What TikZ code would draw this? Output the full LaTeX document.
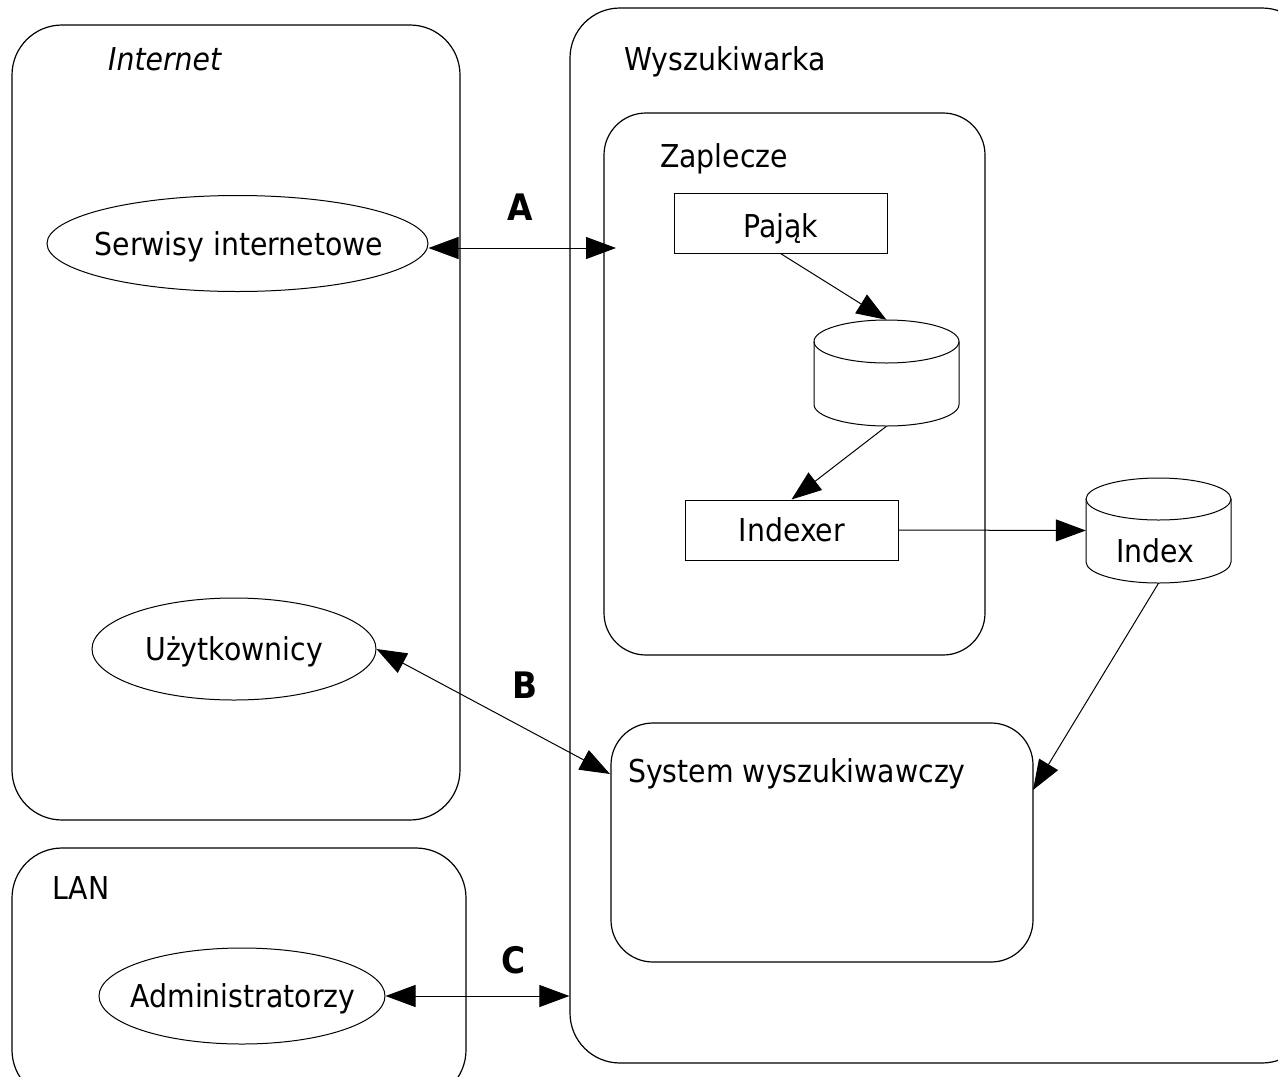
\documentclass[tikz,border=0pt]{standalone}
\usepackage{fontspec}
\setmainfont{DejaVu Sans Condensed}
\usetikzlibrary{arrows.meta,shapes.geometric,calc}

% draws a database cylinder over the named node #1 (centre #2,#3; width #4; height #5; cap radius #6)
\newcommand{\dbcylinder}[6]{%
  \node[minimum width=#4pt, minimum height=#5pt, inner sep=0pt] (#1) at (#2,#3) {};
  \draw[fill=white, line width=1pt]
    ($(#2,#3)+(-#4/2,-#5/2+#6)$) -- ($(#2,#3)+(-#4/2,#5/2-#6)$)
    arc[start angle=180, end angle=360, x radius=#4/2*1pt, y radius=#6*1pt]
    -- ($(#2,#3)+(#4/2,-#5/2+#6)$)
    arc[start angle=0, end angle=180, x radius=#4/2*1pt, y radius=#6*1pt] -- cycle;
  \draw[line width=1pt] ($(#2,#3)+(-#4/2,-#5/2+#6)$)
    arc[start angle=180, end angle=360, x radius=#4/2*1pt, y radius=#6*1pt];
}

\begin{document}
\begin{tikzpicture}[x=1pt, y=-1pt,
  font=\fontsize{31.5}{38}\selectfont,
  region/.style={draw, line width=1.2pt, rounded corners=50pt, inner sep=0pt},
  subregion/.style={draw, line width=1.2pt, fill=white, rounded corners=42pt, inner sep=0pt},
  procbox/.style={draw, line width=1pt, fill=white, inner sep=0pt},
  actor/.style={draw, line width=1pt, ellipse, inner sep=0pt},
  flow/.style={line width=1pt, -{Triangle[length=30pt, width=22pt]}},
  twoway/.style={line width=1pt, {Triangle[length=30pt, width=22pt]}-{Triangle[length=30pt, width=22pt]}},
  tag/.style={font=\fontsize{36.5}{40}\selectfont\bfseries, anchor=base},
  title/.style={anchor=base west, inner sep=0pt},
  lbl/.style={anchor=base, inner sep=0pt}]

\useasboundingbox (0,0) rectangle (1278,1077);
\clip (0,0) rectangle (1278,1077);
\fill[white] (0,0) rectangle (1278,1077);

% outer areas
\node[region, minimum width=448pt, minimum height=795pt] (internet) at (236,422.5) {};
\node[region, minimum width=742pt, minimum height=1055pt] (wysz) at (941,535.5) {};
\node[region, minimum width=454pt, minimum height=252pt] (lan) at (239,974) {};

\node[title] (tInternet) at (108,70) {\itshape Internet};
\node[title] (tWysz) at (624,70) {Wyszukiwarka};
\node[title] (tLan) at (52,899) {LAN};

% inner areas of the search engine
\node[subregion, minimum width=381pt, minimum height=542pt] (zaplecze) at (794.5,384) {};
\node[title] (tZaplecze) at (660,167) {Zaplecze};
\node[subregion, minimum width=422pt, minimum height=239pt] (system) at (822,842.5) {};
\node[title] (tSystem) at (628,782) {System wyszukiwawczy};

% back-end components
\node[procbox, minimum width=213pt, minimum height=60pt] (pajak) at (780.5,223) {};
\node[lbl] (tPajak) at (781,237) {Pająk};
\dbcylinder{store}{886.5}{373}{145}{106}{21.5}
\node[procbox, minimum width=213pt, minimum height=60pt] (indexer) at (791.5,530) {};
\node[lbl] (tIndexer) at (792,541) {Indexer};
\dbcylinder{index}{1158.5}{530.5}{145}{105}{21}
\node[lbl] (tIndex) at (1155,562) {Index};

% actors
\node[actor, minimum width=381pt, minimum height=96pt] (serwisy) at (237.5,243.5) {};
\node[lbl] (tSerwisy) at (239,255) {Serwisy internetowe};
\node[actor, minimum width=284pt, minimum height=102pt] (uzyt) at (234,649) {};
\node[lbl] (tUzyt) at (234,660) {Użytkownicy};
\node[actor, minimum width=286pt, minimum height=96pt] (admin) at (242,996) {};
\node[lbl] (tAdmin) at (243,1007) {Administratorzy};

% connector end points
\coordinate (aEnd) at (616,248);
\coordinate (bEnd) at (610,774);
\coordinate (sysIn) at (1033,790);

% data flow inside the engine
\draw[flow] (pajak.south) -- (store.north);
\draw[flow] (store.south) -- (indexer.north);
\draw[flow] (indexer.east) -- (index.west);
\draw[flow] (index.south) -- (sysIn);

% interfaces
\draw[twoway] (serwisy.east |- aEnd) -- (aEnd);
\draw[twoway] (uzyt.east) -- (bEnd);
\draw[twoway] (admin.east) -- (wysz.west |- admin.east);

\node[tag] (tagA) at (520,220) {A};
\node[tag] (tagB) at (525,698) {B};
\node[tag] (tagC) at (514,973) {C};
\end{tikzpicture}
\end{document}
